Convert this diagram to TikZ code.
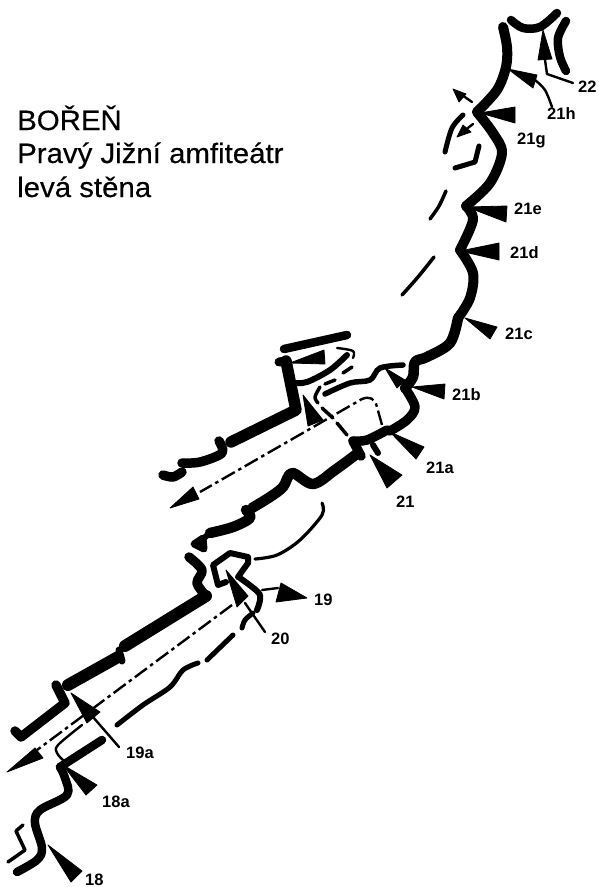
\documentclass[tikz,border=0pt]{standalone}
\usepackage{fontspec}
\setmainfont{Liberation Sans}
\newfontfamily\titlefont[FakeStretch=1.05,FakeBold=0.4]{Liberation Sans}
\tikzset{
 wall/.style={line width=#1,line cap=round,line join=round},
 wall/.default=6pt,
 thinl/.style={line width=2.4pt,line cap=round,line join=round},
 route/.style={line width=2.4pt,dash pattern=on 15pt off 4pt on 3.5pt off 4pt},
 peg/.style={fill=black,draw=black,line width=.8pt,line join=round},
 lab/.style={font=\bfseries\fontsize{16.5}{16.5}\selectfont,inner sep=0pt,anchor=base west},
 title/.style={font=\titlefont\fontsize{28}{28}\selectfont,inner sep=0pt,anchor=base west,text=black},
}
\newcommand{\curve}[2][]{\draw[#1] plot[smooth,tension=.55] coordinates {#2};}
\begin{document}
\begin{tikzpicture}[x=1pt,y=-1pt]
\useasboundingbox (0,0) rectangle (598,887);
% title
\node[title] (t1) at (17,130) {BOŘEŇ};
\node[title] (t2) at (17,163) {Pravý Jižní amfiteátr};
\node[title] (t3) at (17,197) {levá stěna};
% labels
\node[lab] (l22) at (578,92) {22};
\node[lab] (l21h) at (547,119) {21h};
\node[lab] (l21g) at (517,144) {21g};
\node[lab] (l21e) at (514,214) {21e};
\node[lab] (l21d) at (510,258) {21d};
\node[lab] (l21c) at (505,339) {21c};
\node[lab] (l21b) at (452,400) {21b};
\node[lab] (l21a) at (426,473) {21a};
\node[lab] (l21) at (396,507) {21};
\node[lab] (l19) at (314,605) {19};
\node[lab] (l20) at (271,644) {20};
\node[lab] (l19a) at (126,758) {19a};
\node[lab] (l18a) at (102,807) {18a};
\node[lab] (l18) at (85,885) {18};
% top walls
\curve[wall=8.5pt]{(511,20)(523,28)(540,27)(557,13)}
\curve[wall=8.5pt]{(566,21)(558,38)(560,57)(566,71)}
% main wall, upper
\curve[wall=10pt]{(503,27)(507,47)(506,67)(497,90)(477,112)}
\curve[wall=10pt]{(477,112)(493,133)(502,153)(490,183)(466,206)}
\curve[wall=10pt]{(466,206)(473,220)(460,250)}
\curve[wall=10pt]{(460,250)(473,273)(470,298)(458,318)}
\curve[wall=10.5pt]{(458,318)(450,343)(427,357)(415,362)(413,377)(405,388)}
\curve[wall=9.5pt]{(405,388)(415,407)(407,420)(390,431)}
\curve[wall=9.5pt]{(387,430)(367,440)(353,441)}
\draw[wall=6pt] (373,445) -- (378,453);
% main wall, middle
\curve[wall=9.5pt]{(353,441)(361,456)}
\curve[wall=10.5pt]{(358,453)(335,470)(313,484)(292,473)(283,487)(270,497)(252,508)}
\curve[wall=10.5pt]{(246,510)(250,518)(233,527)(210,533)}
\draw[wall=6pt] (210,533) -- (204,538);
% upper branch
\draw[wall=8.5pt] (284,349) -- (347,335);
\draw[wall=9pt] (279,362) -- (286,361);
\draw[wall=11.5pt] (286,361) -- (296,410) -- (231,442);
\curve[wall=6pt]{(293,383)(307,382)(330,370)(347,355)}
\curve[thinl]{(337,348)(353,351)(353,358)}
\draw[wall=3.5pt] (352,367) -- (343,373);
\draw[wall=3.5pt] (335,380) -- (325,384);
\curve[wall=3.5pt]{(320,387)(315,397)(318,403)}
\draw[wall=3.5pt] (322,408) -- (333,418);
\draw[wall=3.5pt] (337,423) -- (347,435);
\curve[wall=5.5pt]{(325,394)(350,383)(370,380)(380,368)(403,365)}
% left wall pieces
\curve[wall=9.5pt]{(219,441)(222,453)(200,462)(182,463)}
\curve[wall=9.5pt]{(163,475)(173,477)(182,472)}
% routes
\draw[route] (382,425) -- (377,407) .. controls (375,398) and (369,396) .. (362,399) -- (200,492);
\draw[peg] (170,508) -- (193,487) -- (199,499) -- cycle;
\draw[route] (232,605) -- (37,750);
\draw[peg] (7,772) -- (35,748) -- (43,758) -- cycle;
% thin curve between the two halves
\curve[wall=3.2pt]{(322,503)(322,515)(300,540)(277,555)(255,559)}
% blob and lower wall
\draw[wall=7pt,fill=black] (194,544) -- (203,538) -- (204,549) -- cycle;
\curve[wall=9.5pt]{(189,557)(202,570)(197,583)(206,596)}
\draw[wall=12pt] (206,596) -- (125,646);
\draw[wall=7pt] (119,650) -- (122,661);
\draw[wall=12pt] (118,657) -- (68,685);
\draw[wall=9.5pt] (56,685) -- (65,703) -- (21,737) -- (15,731);
% 20 region
\draw[wall=6pt] (248,563) -- (248,557) -- (230,553) -- (213,565) -- (218,585) -- (226,582);
\draw[wall=6pt] (248,563) -- (238,577);
\curve[wall=6pt]{(240,578)(258,592)(260,600)(257,610)}
\draw[peg] (226,570) -- (248,596) -- (237,607) -- cycle;
\draw[thinl] (245,603) -- (265,632);
\draw[thinl] (262,590) -- (278,588);
\draw[peg] (307,598) -- (281,583) -- (276,602) -- cycle;
% dashed lower wall
\curve[wall=5pt]{(253,613)(245,620)(242,628)}
\draw[wall=5pt] (233,635) -- (207,660);
\curve[wall=5pt]{(198,663)(183,670)(170,687)(143,705)(117,725)}
% bottom
\curve[thinl]{(82,725)(58,745)(57,753)(63,760)}
\draw[wall=8.5pt] (102,740) -- (60,767);
\curve[wall=8.5pt]{(60,767)(65,778)(67,795)(40,810)(35,823)(42,848)(37,860)(17,872)}
\draw[wall=3.5pt] (23,825) -- (16,831) -- (25,850) -- (8,862);
% other thin walls top
\curve[wall=5pt]{(463,115)(452,128)(445,152)}
\draw[wall=5pt] (479,146) -- (475,162) -- (455,168);
\curve[wall=3.5pt]{(446,191)(439,206)(430,219)}
\curve[wall=3.5pt]{(434,257)(418,277)(402,295)}
% arrows and pegs
\draw[peg] (543,30) -- (552,59) -- (538,60) -- cycle;
\draw[thinl] (545,60) -- (547,74) -- (573,83);
\draw[peg] (508,69) -- (537,75) -- (533,88) -- cycle;
\curve[thinl]{(535,80)(545,90)(552,107)}
\draw[thinl] (472,102) -- (462,95);
\draw[peg] (453,89) -- (466,94) -- (459,102) -- cycle;
\draw[peg] (480,113) -- (515,107) -- (515,123) -- cycle;
\draw[thinl] (473,124) -- (464,131);
\draw[peg] (457,137) -- (463,125) -- (471,132) -- cycle;
\draw[peg] (467,207) -- (507,206) -- (506,222) -- cycle;
\draw[peg] (460,251) -- (499,243) -- (499,260) -- cycle;
\draw[peg] (465,318) -- (497,327) -- (490,339) -- cycle;
\draw[peg] (412,387) -- (445,384) -- (444,399) -- cycle;
\draw[peg] (385,368) -- (405,380) -- (397,388) -- cycle;
\draw[peg] (390,432) -- (424,447) -- (416,459) -- cycle;
\draw[peg] (370,455) -- (402,475) -- (387,488) -- cycle;
\draw[peg] (290,363) -- (324,350) -- (325,364) -- cycle;
\draw[peg] (303,395) -- (323,420) -- (308,426) -- cycle;
\draw[peg] (71,693) -- (100,712) -- (87,723) -- cycle;
\draw[thinl] (93,717) -- (119,747);
\draw[peg] (63,765) -- (97,785) -- (86,795) -- cycle;
\draw[peg] (48,845) -- (82,871) -- (71,882) -- cycle;
\end{tikzpicture}
\end{document}
